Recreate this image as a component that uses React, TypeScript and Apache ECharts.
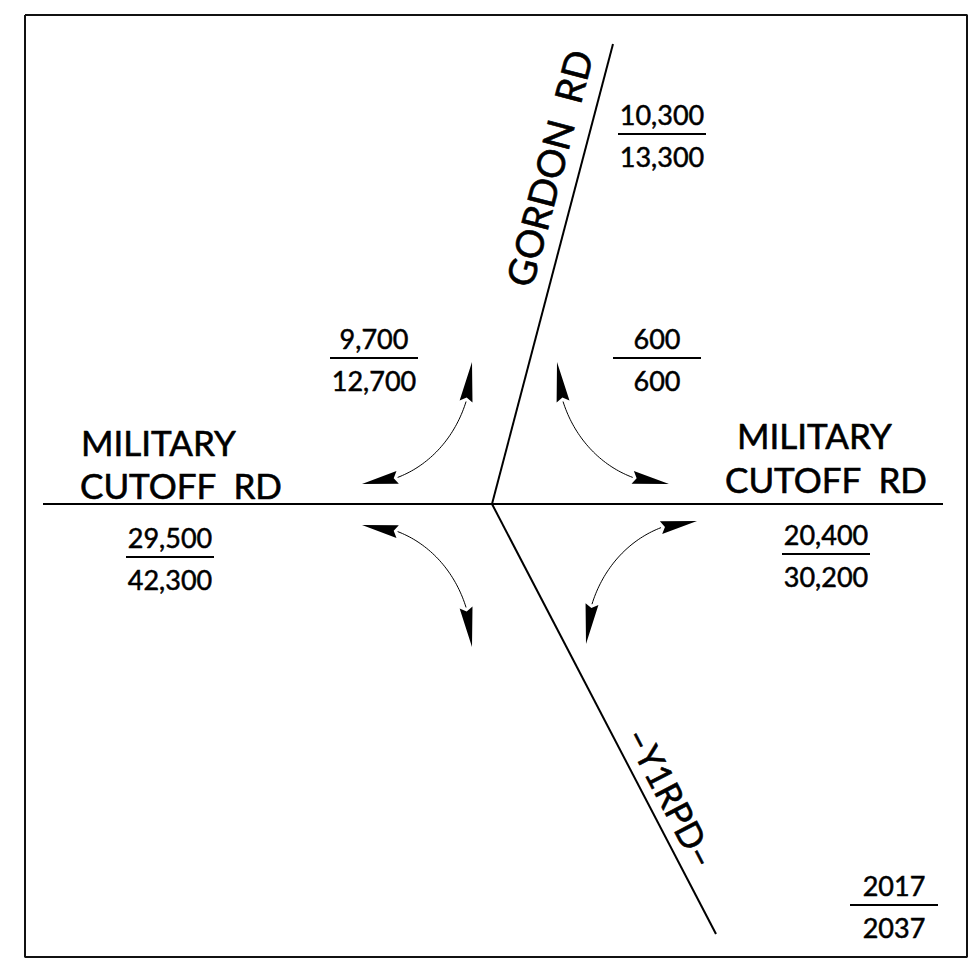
import React, { useEffect, useRef } from "react";
import * as echarts from "echarts";

const FONT = "Lato, 'Noto Sans', sans-serif";

// ---- data ----
// Average daily traffic: 2017 volume (top) over 2037 volume (bottom)
const volumeLegs = ["Gordon Rd", "Gordon Rd -> W", "Gordon Rd -> E", "Military Cutoff W", "Military Cutoff E", "Legend"];
const volumes2017 = ["10,300", "9,700", "600", "29,500", "20,400", "2017"];
const volumes2037 = ["13,300", "12,700", "600", "42,300", "30,200", "2037"];

// Road names
const roadNames = ["MILITARY", "CUTOFF  RD", "MILITARY", "CUTOFF  RD", "GORDON  RD", "\u2013Y1RPD\u2013"];

// ---- layout (diagram units = pixels) ----
const volumePos = [[662, 134], [374, 358], [657, 358], [170, 557], [826, 554], [894, 905]];
const roadNamePos = [[81, 442], [80, 485], [737, 435], [725, 479], [549, 168], [672, 797]];
const roadNameAlign = ["left", "left", "left", "left", "center", "center"];
const roadNameAngle = [0, 0, 0, 0, 75.3, -62.5];
const roadNameSize = [35, 35, 35, 35, 38, 35];

const borderPts = [[25, 15], [967, 15], [967, 957], [25, 957], [25, 15]];
const roadMilitary = [[43, 504], [943, 504]];
const roadGordon = [[492, 504], [613, 44]];
const roadY1 = [[492, 504], [716, 934]];

// turning-movement arrows: ellipse centre, radii, quadrant signs
const arrowCentres = [[362, 362], [669, 362], [362, 647], [697, 644]];
const arrowRadii = [[110, 122], [112, 122], [110, 122], [111, 123]];
const arrowSigns = [[1, 1], [-1, 1], [1, -1], [-1, -1]];

export default function App() {
  const ref = useRef<HTMLDivElement>(null);
  useEffect(() => {
    if (!ref.current) return;
    const chart = echarts.init(ref.current, undefined, { renderer: "svg" });

    const lineSeries = (data: number[][], width: number, color = "#000") => ({
      type: "line",
      data,
      symbol: "none",
      silent: true,
      lineStyle: { color, width },
      animation: false,
    });

    const option: any = {
      animation: false,
      backgroundColor: "#fff",
      grid: { left: 0, right: 0, top: 0, bottom: 0 },
      xAxis: { type: "value", min: 0, max: 980, show: false },
      yAxis: { type: "value", min: 0, max: 974, inverse: true, show: false },
      series: [
        lineSeries(borderPts, 2, "#111"),
        lineSeries(roadMilitary, 2),
        lineSeries(roadGordon, 2),
        lineSeries(roadY1, 2),
        {
          type: "custom",
          silent: true,
          clip: false,
          data: arrowCentres,
          renderItem: (params: any, api: any) => {
            const i = params.dataIndex;
            const [cx, cy] = arrowCentres[i];
            const [rx, ry] = arrowRadii[i];
            const [sx, sy] = arrowSigns[i];
            const P = (t: number) => api.coord([cx + sx * rx * Math.cos(t), cy + sy * ry * Math.sin(t)]);
            const dt = 0.33;
            const pts: number[][] = [];
            const n = 40;
            for (let k = 0; k <= n; k++) {
              const t = dt + ((Math.PI / 2 - 2 * dt) * k) / n;
              pts.push(P(t));
            }
            const head = (tip: number[], base: number[]) => {
              const dx = tip[0] - base[0];
              const dy = tip[1] - base[1];
              const len = Math.hypot(dx, dy);
              const ux = dx / len, uy = dy / len;
              const nx = -uy, ny = ux;
              const w = 6.5, notch = 4;
              return {
                type: "polygon",
                shape: {
                  points: [
                    tip,
                    [base[0] + nx * w, base[1] + ny * w],
                    [base[0] + ux * notch, base[1] + uy * notch],
                    [base[0] - nx * w, base[1] - ny * w],
                  ],
                },
                style: { fill: "#000", stroke: "none" },
              };
            };
            return {
              type: "group",
              children: [
                { type: "polyline", shape: { points: pts }, style: { stroke: "#000", lineWidth: 1, fill: "none" } },
                head(P(0), P(dt)),
                head(P(Math.PI / 2), P(Math.PI / 2 - dt)),
              ],
            };
          },
        },
        {
          type: "custom",
          silent: true,
          clip: false,
          data: volumePos,
          renderItem: (params: any, api: any) => {
            const i = params.dataIndex;
            const c = api.coord(volumePos[i]);
            const half = 44;
            const txt = (s: string, y: number) => ({
              type: "text",
              x: c[0],
              y,
              style: {
                text: s,
                fontFamily: FONT,
                fontSize: 27,
                fill: "#000",
                stroke: "#000",
                lineWidth: 0.5,
                align: "center",
                verticalAlign: "middle",
              },
            });
            return {
              type: "group",
              children: [
                {
                  type: "line",
                  shape: { x1: c[0] - half, y1: c[1], x2: c[0] + half, y2: c[1] },
                  style: { stroke: "#000", lineWidth: 2 },
                },
                txt(volumes2017[i], c[1] - 20),
                txt(volumes2037[i], c[1] + 22),
              ],
            };
          },
        },
        {
          type: "custom",
          silent: true,
          clip: false,
          data: roadNamePos,
          renderItem: (params: any, api: any) => {
            const i = params.dataIndex;
            const c = api.coord(roadNamePos[i]);
            return {
              type: "text",
              x: c[0],
              y: c[1],
              rotation: (roadNameAngle[i] * Math.PI) / 180,
              style: {
                text: roadNames[i],
                fontFamily: FONT,
                fontSize: roadNameSize[i],
                fill: "#000",
                stroke: "#000",
                lineWidth: 0.6,
                align: roadNameAlign[i],
                verticalAlign: "middle",
              },
            };
          },
        },
      ],
    };
    chart.setOption(option);
    return () => chart.dispose();
  }, []);
  return <div ref={ref} style={{ position: "absolute", left: 0, top: 0, width: 980, height: 974 }} />;
}
